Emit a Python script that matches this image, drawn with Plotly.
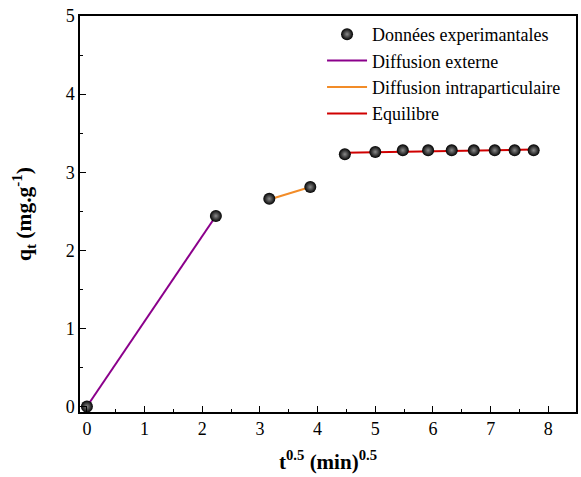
import plotly.graph_objects as go

t_sqrt = [0, 2.236, 3.162, 3.873, 4.472, 5.0, 5.477, 5.916, 6.325, 6.708, 7.071, 7.416, 7.746]
qt = [0.0, 2.44, 2.66, 2.81, 3.23, 3.26, 3.28, 3.28, 3.28, 3.28, 3.28, 3.28, 3.28]

ext_x = [0, 2.236]
ext_y = [0.0, 2.44]
intra_x = [3.162, 3.873]
intra_y = [2.65, 2.81]
eq_x = [4.472, 7.746]
eq_y = [3.25, 3.29]

font = "Liberation Serif, Times New Roman, serif"
fig = go.Figure()
fig.add_trace(go.Scatter(x=ext_x, y=ext_y, mode="lines", name="Diffusion externe", legendrank=2,
                         line=dict(color="#8B008B", width=2)))
fig.add_trace(go.Scatter(x=intra_x, y=intra_y, mode="lines", name="Diffusion intraparticulaire", legendrank=3,
                         line=dict(color="#F28C28", width=2)))
fig.add_trace(go.Scatter(x=eq_x, y=eq_y, mode="lines", name="Equilibre", legendrank=4,
                         line=dict(color="#D00000", width=2)))
fig.add_trace(go.Scatter(x=t_sqrt, y=qt, mode="markers", name="Données experimantales", legendrank=1,
                         marker=dict(color="black", size=12,
                                     gradient=dict(type="radial", color="#8a8a8a"),
                                     line=dict(width=0))))

axis_common = dict(showline=True, linecolor="black", linewidth=1.5, mirror=True,
                   ticks="inside", ticklen=6, tickwidth=1.2, tickcolor="black",
                   showgrid=False, zeroline=False,
                   tickfont=dict(family=font, size=18, color="black"),
                   minor=dict(ticks="inside", ticklen=3, tickwidth=1.2, tickcolor="black"))

fig.update_layout(
    width=581, height=477,
    margin=dict(l=80, r=3, t=16, b=65),
    plot_bgcolor="white", paper_bgcolor="white",
    font=dict(family=font, color="black"),
    legend=dict(x=0.488, y=1.0, xanchor="left", yanchor="top", traceorder="normal",
                font=dict(family=font, size=18, color="black"),
                bgcolor="rgba(0,0,0,0)", tracegroupgap=0, itemwidth=40),
    xaxis=dict(range=[-0.12, 8.48], dtick=1, minor_dtick=0.5,
               title=dict(text="<b>t<sup>0.5</sup> (min)<sup>0.5</sup></b>",
                          font=dict(family=font, size=21), standoff=16),
               **axis_common),
    yaxis=dict(range=[-0.07, 5], dtick=1, minor_dtick=0.5,
               title=dict(text="<b>q<sub>t</sub> (mg.g<sup>-1</sup>)</b>",
                          font=dict(family=font, size=21.5), standoff=28),
               **axis_common),
    showlegend=True,
)
fig.write_html("out.html")
